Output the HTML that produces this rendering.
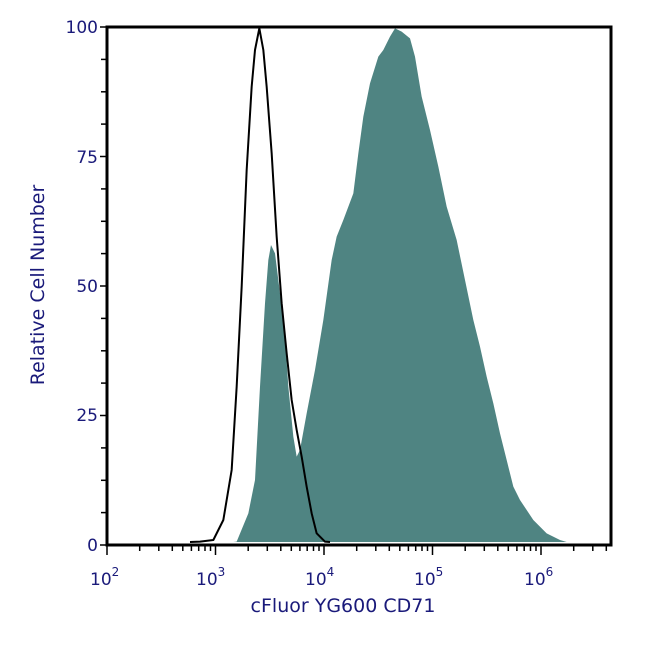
<!DOCTYPE html>
<html><head><meta charset="utf-8"><style>
body{margin:0;background:#fff;}
svg text{font-family:"DejaVu Sans","Liberation Sans",sans-serif;fill:#1a1a7a;}
</style></head><body>
<svg width="650" height="650" viewBox="0 0 650 650" xmlns="http://www.w3.org/2000/svg">
<g transform="translate(200,20) scale(0.33333)">
<polygon fill="#4f8482" points="100,1566 110,1565 145,1480 165,1380 180,1100 195,850 205,720 213,675 225,700 240,820 255,950 265,1100 280,1250 290,1310 300,1290 320,1180 345,1050 370,900 395,720 410,650 430,600 460,520 475,400 490,290 510,190 535,110 550,90 570,50 585,25 605,35 630,55 645,110 665,230 690,330 715,440 740,560 770,660 795,780 820,900 840,980 860,1070 880,1150 900,1240 920,1320 940,1400 960,1440 1000,1500 1040,1540 1080,1560 1100,1566"/>
<polyline fill="none" stroke="#000" stroke-width="6" stroke-linejoin="round" points="-30,1566 0,1565 40,1560 70,1500 95,1350 110,1100 125,800 140,450 155,200 165,90 178,25 190,90 200,200 215,400 230,650 245,850 260,1000 275,1140 290,1230 305,1310 320,1400 335,1480 350,1540 375,1565 390,1566"/>
</g>
<rect x="107" y="27" width="504" height="518" fill="none" stroke="#000" stroke-width="3"/>
<g stroke="#000" stroke-width="1.5">
<line x1="100" y1="27" x2="107" y2="27"/><line x1="100" y1="156.5" x2="107" y2="156.5"/><line x1="100" y1="286" x2="107" y2="286"/><line x1="100" y1="415.5" x2="107" y2="415.5"/><line x1="100" y1="545" x2="107" y2="545"/>
<line x1="101" y1="59.4" x2="107" y2="59.4"/><line x1="101" y1="91.8" x2="107" y2="91.8"/><line x1="101" y1="124.1" x2="107" y2="124.1"/>
<line x1="101" y1="188.9" x2="107" y2="188.9"/><line x1="101" y1="221.3" x2="107" y2="221.3"/><line x1="101" y1="253.6" x2="107" y2="253.6"/>
<line x1="101" y1="318.4" x2="107" y2="318.4"/><line x1="101" y1="350.8" x2="107" y2="350.8"/><line x1="101" y1="383.1" x2="107" y2="383.1"/>
<line x1="101" y1="447.9" x2="107" y2="447.9"/><line x1="101" y1="480.3" x2="107" y2="480.3"/><line x1="101" y1="512.6" x2="107" y2="512.6"/>
<path fill="none" d="M107,545v10 M139.7,545v6 M158.8,545v6 M172.3,545v6 M182.8,545v6 M191.4,545v6 M198.7,545v6 M205,545v6 M210.5,545v6
M215.5,545v10 M248.2,545v6 M267.3,545v6 M280.8,545v6 M291.3,545v6 M299.9,545v6 M307.2,545v6 M313.5,545v6 M319,545v6
M324,545v10 M356.7,545v6 M375.8,545v6 M389.3,545v6 M399.8,545v6 M408.4,545v6 M415.7,545v6 M422,545v6 M427.5,545v6
M432.5,545v10 M465.2,545v6 M484.3,545v6 M497.8,545v6 M508.3,545v6 M516.9,545v6 M524.2,545v6 M530.5,545v6 M536,545v6
M541,545v10 M573.7,545v6 M592.8,545v6 M606.3,545v6"/>
</g>
<g font-size="17" text-anchor="end">
<text x="98" y="33">100</text><text x="98" y="163">75</text><text x="98" y="292">50</text><text x="98" y="421">25</text><text x="98" y="551">0</text>
</g>
<g font-size="17">
<text x="90" y="585">10<tspan font-size="12" dy="-9">2</tspan></text>
<text x="196" y="585">10<tspan font-size="12" dy="-9">3</tspan></text>
<text x="305" y="585">10<tspan font-size="12" dy="-9">4</tspan></text>
<text x="414" y="585">10<tspan font-size="12" dy="-9">5</tspan></text>
<text x="524" y="585">10<tspan font-size="12" dy="-9">6</tspan></text>
</g>
<text x="343" y="612" font-size="19" text-anchor="middle">cFluor YG600 CD71</text>
<text transform="translate(44,285) rotate(-90)" font-size="19" text-anchor="middle">Relative Cell Number</text>
</svg>
</body></html>
